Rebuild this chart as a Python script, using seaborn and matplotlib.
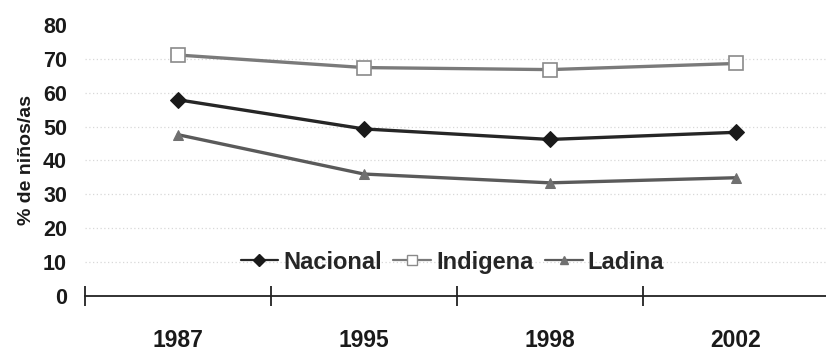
import matplotlib
matplotlib.use("Agg")
import matplotlib.pyplot as plt
import seaborn as sns
import pandas as pd

# Survey years and the share of children (%) for each group
years = ["1987", "1995", "1998", "2002"]
nacional = [57.9, 49.3, 46.2, 48.3]
indigena = [71.1, 67.4, 66.8, 68.6]
ladina = [47.6, 36.0, 33.4, 34.9]
y_ticks = [0, 10, 20, 30, 40, 50, 60, 70, 80]
groups = ["Nacional", "Indigena", "Ladina"]

df = pd.DataFrame({
    "year": years * 3,
    "value": nacional + indigena + ladina,
    "group": ["Nacional"] * 4 + ["Indigena"] * 4 + ["Ladina"] * 4,
})

sns.set_theme(style="white")
plt.rcParams["font.family"] = ["Liberation Sans", "DejaVu Sans"]
plt.rcParams["font.weight"] = "bold"

fig = plt.figure(figsize=(8.26, 3.55), dpi=100)
ax = fig.add_axes([0.103, 0.166, 0.90, 0.764])

palette = {"Nacional": "#262626", "Indigena": "#7a7a7a", "Ladina": "#5a5a5a"}
markers = {"Nacional": "D", "Indigena": "s", "Ladina": "^"}

sns.lineplot(data=df, x="year", y="value", hue="group", style="group",
             palette=palette, markers=markers, dashes=False, linewidth=2.4,
             ax=ax, legend=False)

# marker styling per series
for line, name in zip(ax.get_lines(), groups):
    if name == "Nacional":
        line.set_markersize(8)
        line.set_markerfacecolor("#1a1a1a")
        line.set_markeredgecolor("#1a1a1a")
    elif name == "Indigena":
        line.set_markersize(10)
        line.set_markerfacecolor("white")
        line.set_markeredgecolor("#8a8a8a")
        line.set_markeredgewidth(1.2)
    else:
        line.set_markersize(7)
        line.set_markerfacecolor("#707070")
        line.set_markeredgecolor("#707070")

ax.set_xlim(-0.5, 3.5)
ax.set_ylim(0, 80)
ax.set_yticks(y_ticks)
ax.set_yticklabels([str(t) for t in y_ticks], fontsize=15.5, fontweight="bold",
                   color="#1a1a1a")

# faint dotted gridlines
for t in y_ticks[1:-1]:
    ax.axhline(t, color="#d8d8d8", linestyle=(0, (1, 2)), linewidth=0.9,
               zorder=0)

for side in ["left", "right", "top"]:
    ax.spines[side].set_visible(False)
ax.spines["bottom"].set_color("#222222")
ax.spines["bottom"].set_linewidth(1.3)

ax.set_xticks(range(len(years)))
ax.set_xticklabels(years, fontsize=16.5, fontweight="bold", color="#1a1a1a")
ax.tick_params(axis="x", which="major", bottom=True, length=0, pad=24)
ax.set_xticks([-0.5, 0.5, 1.5, 2.5, 3.5], minor=True)
ax.tick_params(axis="x", which="minor", bottom=True, direction="inout",
               length=14, width=1.3, color="#222222")
ax.tick_params(axis="y", length=0, pad=13)

ax.set_xlabel("")
ax.set_ylabel("% de niños/as", fontsize=14, fontweight="bold",
              color="#1a1a1a", labelpad=6)

# legend drawn from the series lines
handles = []
for name, src in zip(groups, ax.get_lines()):
    h, = ax.plot([], [], color=src.get_color(), marker=src.get_marker(),
                 markersize=src.get_markersize() * 0.75,
                 markerfacecolor=src.get_markerfacecolor(),
                 markeredgecolor=src.get_markeredgecolor(), linewidth=1.6)
    handles.append(h)
ax.legend(handles, groups, loc="center",
          bbox_to_anchor=(0.494, 0.125), ncol=3, frameon=False,
          prop={"size": 17, "weight": "bold"}, handlelength=1.6,
          handletextpad=0.2, columnspacing=0.5, borderpad=0)

fig.savefig("out.png", dpi=100)
